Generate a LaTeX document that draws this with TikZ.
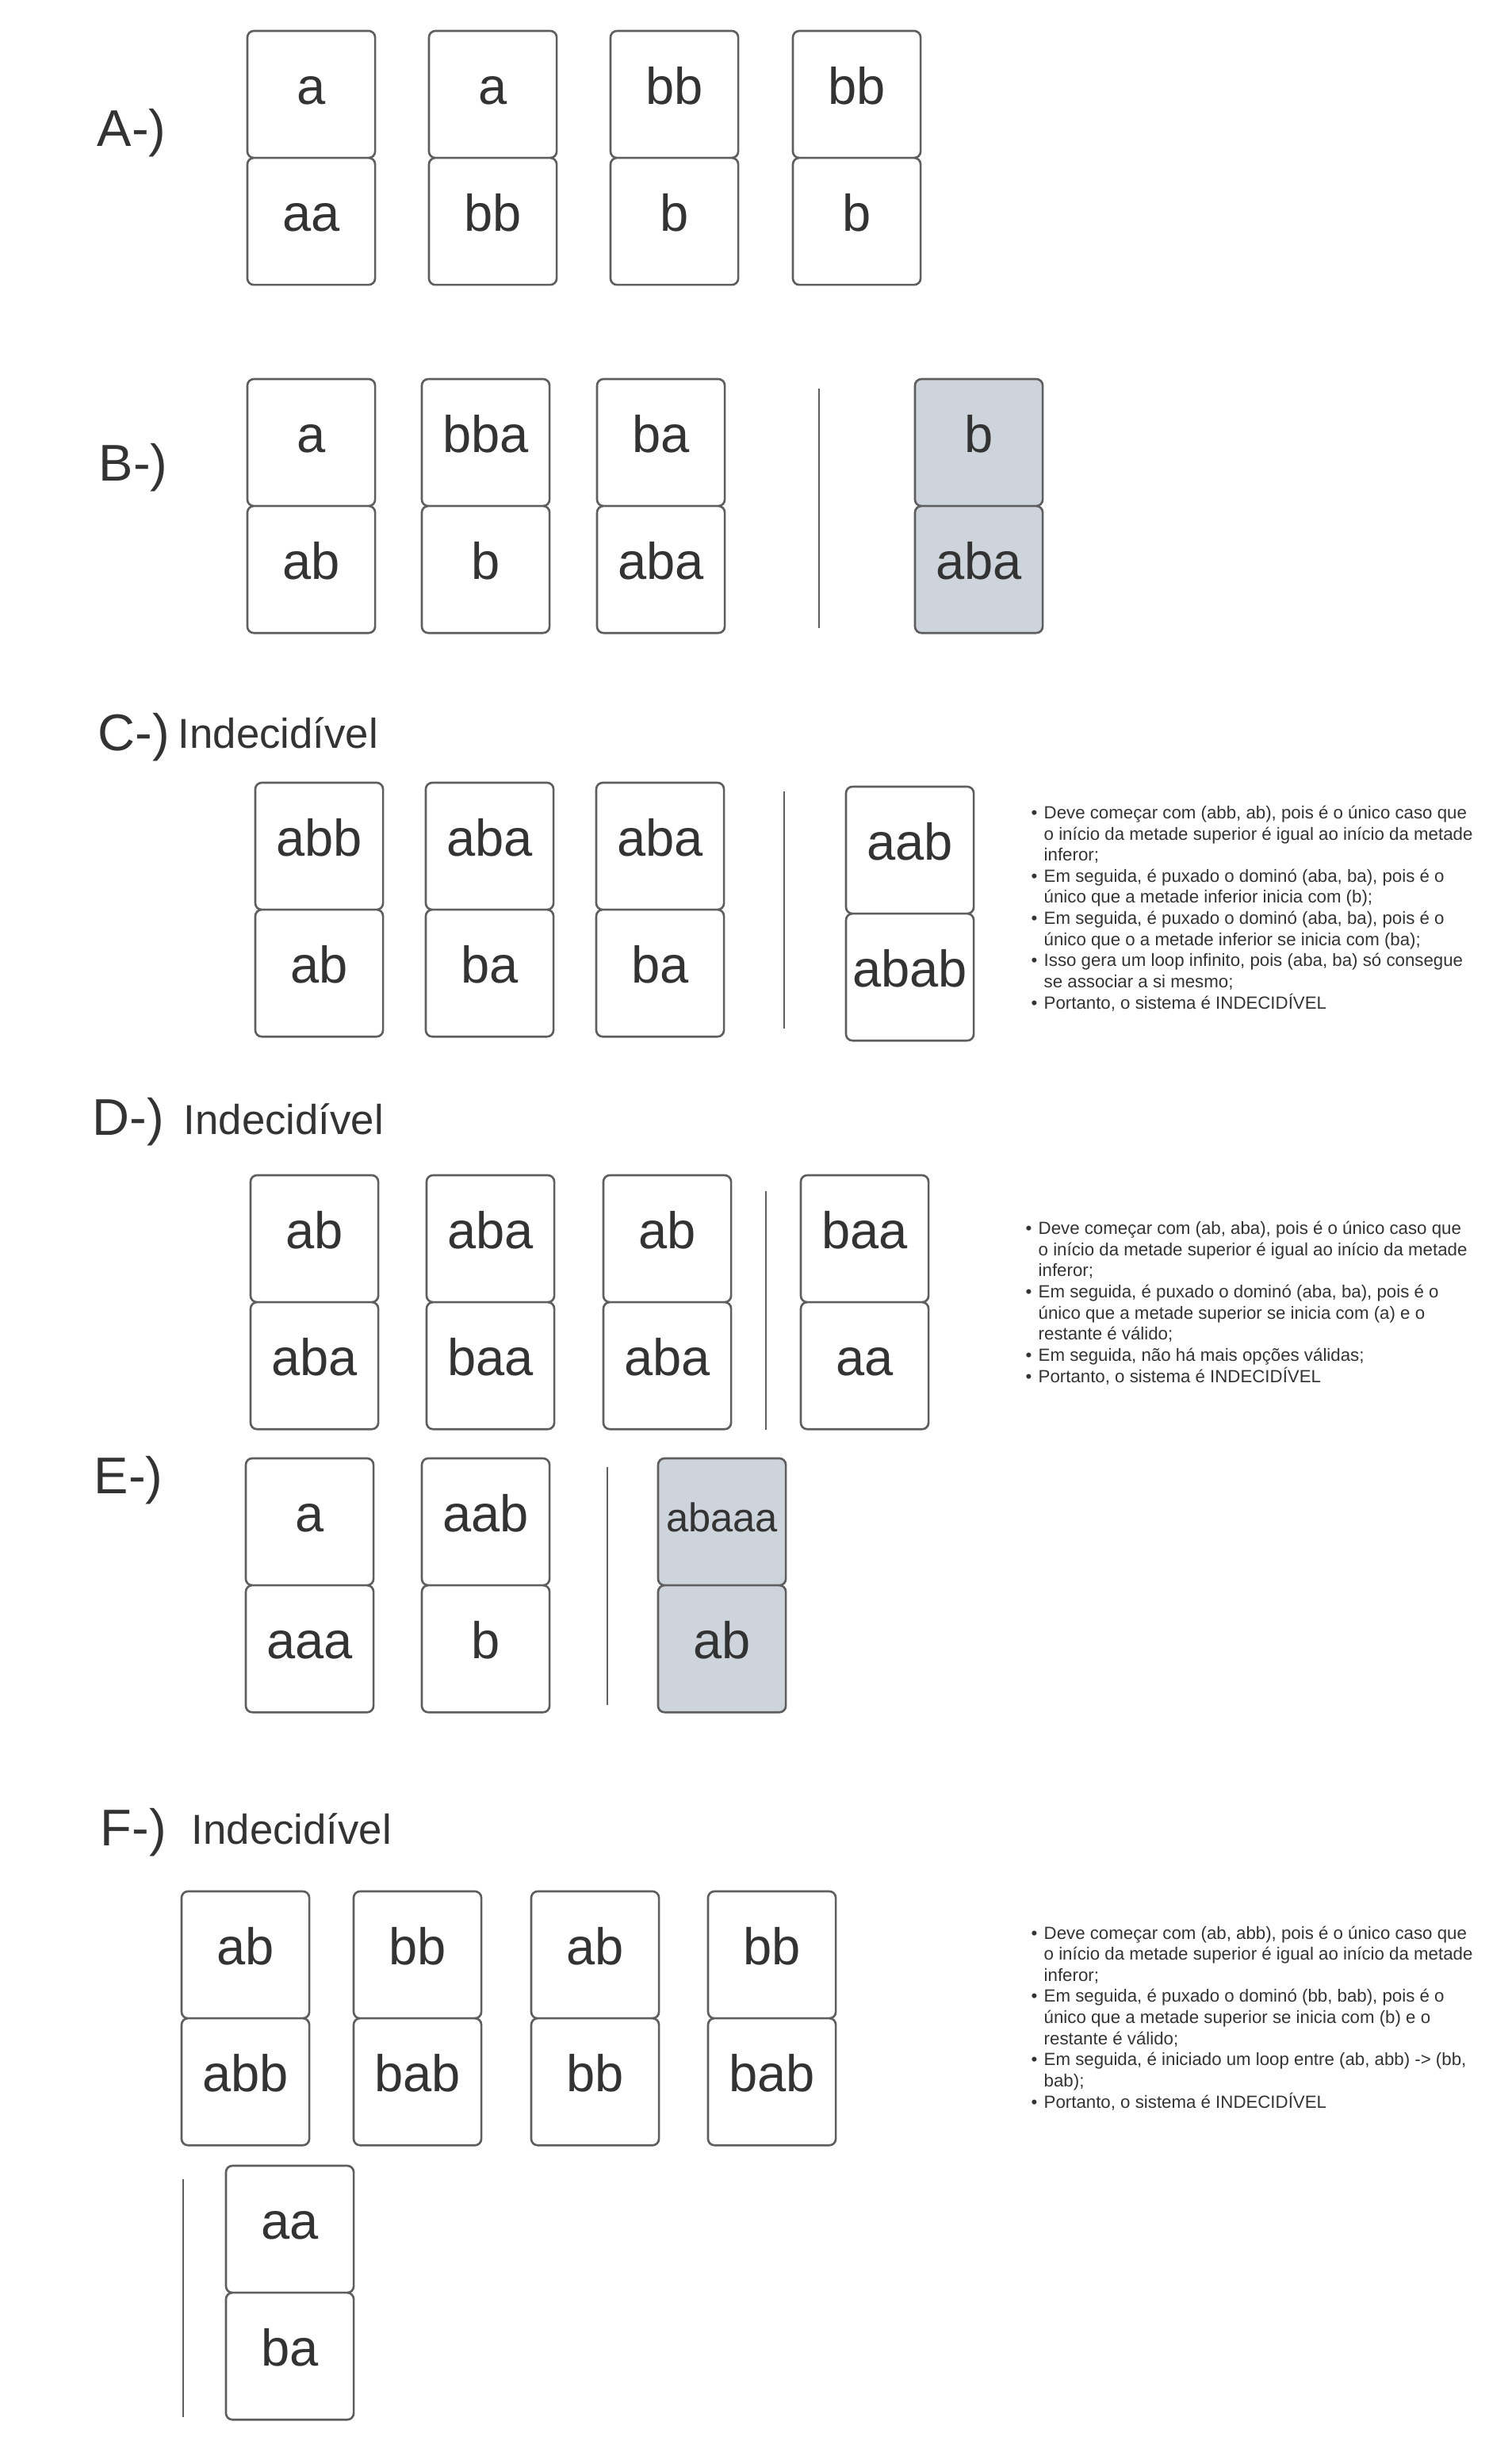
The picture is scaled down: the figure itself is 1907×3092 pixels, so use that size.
\documentclass[tikz,border=0pt]{standalone}
\usepackage{fontspec}
\setmainfont{Liberation Sans}
\usetikzlibrary{positioning}

\definecolor{txtgray}{HTML}{333333}
\definecolor{linegray}{HTML}{5E5E5E}
\definecolor{tilegray}{HTML}{CED4DB}

\newcommand{\bul}{\makebox[4.55pt][l]{\textbullet}}
\newcommand{\ind}{\hspace*{4.55pt}}

\begin{document}
\begin{tikzpicture}[x=0.01cm,y=-0.01cm,
  half/.style={draw=linegray,line width=0.75pt,rounded corners=2.3pt,fill=white,
    minimum width=1.61cm,minimum height=1.6cm,inner sep=0pt,outer sep=0pt,
    text height=6.83pt,text depth=0pt,text=txtgray,font=\fontsize{18.5}{22}\selectfont},
  shaded/.style={half,fill=tilegray},
  lbl/.style={anchor=base west,inner sep=0pt,text=txtgray,font=\fontsize{18.5}{22}\selectfont},
  verdict/.style={anchor=base west,inner sep=0pt,text=txtgray,font=\fontsize{15}{18}\selectfont},
  % anchored at the baseline of the last line
  notes/.style={anchor=base west,inner sep=0pt,align=left,text=txtgray,font=\fontsize{6.33}{7.57}\selectfont},
  sep/.style={draw=linegray,line width=0.7pt}]

\useasboundingbox (0,0) rectangle (1907,3092);

% A
\node[lbl] (labA) at (122,185) {A-)};
\node[half,anchor=north west] (A1t) at (312,39) {a};
\node[half] (A1b) [below=0pt of A1t] {aa};
\node[half,anchor=north west] (A2t) at (541,39) {a};
\node[half] (A2b) [below=0pt of A2t] {bb};
\node[half,anchor=north west] (A3t) at (770,39) {bb};
\node[half] (A3b) [below=0pt of A3t] {b};
\node[half,anchor=north west] (A4t) at (1000,39) {bb};
\node[half] (A4b) [below=0pt of A4t] {b};

% B
\node[lbl] (labB) at (124,607) {B-)};
\node[half,anchor=north west] (B1t) at (312,478) {a};
\node[half] (B1b) [below=0pt of B1t] {ab};
\node[half,anchor=north west] (B2t) at (532,478) {bba};
\node[half] (B2b) [below=0pt of B2t] {b};
\node[half,anchor=north west] (B3t) at (753,478) {ba};
\node[half] (B3b) [below=0pt of B3t] {aba};
\draw[sep] (1033,490) -- (1033,792);
\node[shaded,anchor=north west] (B4t) at (1154,478) {b};
\node[shaded] (B4b) [below=0pt of B4t] {aba};

% C
\node[lbl] (labC) at (123,946) {C-)};
\node[verdict] (resC) at (224,944) {Indecidível};
\node[half,anchor=north west] (C1t) at (322,987) {abb};
\node[half] (C1b) [below=0pt of C1t] {ab};
\node[half,anchor=north west] (C2t) at (537,987) {aba};
\node[half] (C2b) [below=0pt of C2t] {ba};
\node[half,anchor=north west] (C3t) at (752,987) {aba};
\node[half] (C3b) [below=0pt of C3t] {ba};
\draw[sep] (989,998) -- (989,1297);
\node[half,anchor=north west] (C4t) at (1067,992) {aab};
\node[half] (C4b) [below=0pt of C4t] {abab};
\node[notes] (noteC) at (1300,1272) {%
\bul Deve começar com (abb, ab), pois é o único caso que\\
\ind o início da metade superior é igual ao início da metade\\
\ind inferor;\\
\bul Em seguida, é puxado o dominó (aba, ba), pois é o\\
\ind único que a metade inferior inicia com (b);\\
\bul Em seguida, é puxado o dominó (aba, ba), pois é o\\
\ind único que o a metade inferior se inicia com (ba);\\
\bul Isso gera um loop infinito, pois (aba, ba) só consegue\\
\ind se associar a si mesmo;\\
\bul Portanto, o sistema é INDECIDÍVEL};

% D
\node[lbl] (labD) at (116,1431) {D-)};
\node[verdict] (resD) at (231,1430) {Indecidível};
\node[half,anchor=north west] (D1t) at (316,1482) {ab};
\node[half] (D1b) [below=0pt of D1t] {aba};
\node[half,anchor=north west] (D2t) at (538,1482) {aba};
\node[half] (D2b) [below=0pt of D2t] {baa};
\node[half,anchor=north west] (D3t) at (761,1482) {ab};
\node[half] (D3b) [below=0pt of D3t] {aba};
\draw[sep] (966,1502) -- (966,1803);
\node[half,anchor=north west] (D4t) at (1010,1482) {baa};
\node[half] (D4b) [below=0pt of D4t] {aa};
\node[notes] (noteD) at (1293,1743) {%
\bul Deve começar com (ab, aba), pois é o único caso que\\
\ind o início da metade superior é igual ao início da metade\\
\ind inferor;\\
\bul Em seguida, é puxado o dominó (aba, ba), pois é o\\
\ind único que a metade superior se inicia com (a) e o\\
\ind restante é válido;\\
\bul Em seguida, não há mais opções válidas;\\
\bul Portanto, o sistema é INDECIDÍVEL};

% E
\node[lbl] (labE) at (118,1883) {E-)};
\node[half,anchor=north west] (E1t) at (310,1839) {a};
\node[half] (E1b) [below=0pt of E1t] {aaa};
\node[half,anchor=north west] (E2t) at (532,1839) {aab};
\node[half] (E2b) [below=0pt of E2t] {b};
\draw[sep] (766,1850) -- (766,2150);
\node[shaded,anchor=north west,font=\fontsize{14.4}{17}\selectfont] (E3t) at (830,1839) {abaaa};
\node[shaded] (E3b) [below=0pt of E3t] {ab};

% F
\node[lbl] (labF) at (126,2327) {F-)};
\node[verdict] (resF) at (241,2325) {Indecidível};
\node[half,anchor=north west] (F1t) at (229,2385) {ab};
\node[half] (F1b) [below=0pt of F1t] {abb};
\node[half,anchor=north west] (F2t) at (446,2385) {bb};
\node[half] (F2b) [below=0pt of F2t] {bab};
\node[half,anchor=north west] (F3t) at (670,2385) {ab};
\node[half] (F3b) [below=0pt of F3t] {bb};
\node[half,anchor=north west] (F4t) at (893,2385) {bb};
\node[half] (F4b) [below=0pt of F4t] {bab};
\draw[sep] (231,2748) -- (231,3048);
\node[half,anchor=north west] (F5t) at (285,2731) {aa};
\node[half] (F5b) [below=0pt of F5t] {ba};
\node[notes] (noteF) at (1300,2658) {%
\bul Deve começar com (ab, abb), pois é o único caso que\\
\ind o início da metade superior é igual ao início da metade\\
\ind inferor;\\
\bul Em seguida, é puxado o dominó (bb, bab), pois é o\\
\ind único que a metade superior se inicia com (b) e o\\
\ind restante é válido;\\
\bul Em seguida, é iniciado um loop entre (ab, abb) -> (bb,\\
\ind bab);\\
\bul Portanto, o sistema é INDECIDÍVEL};
\end{tikzpicture}
\end{document}
